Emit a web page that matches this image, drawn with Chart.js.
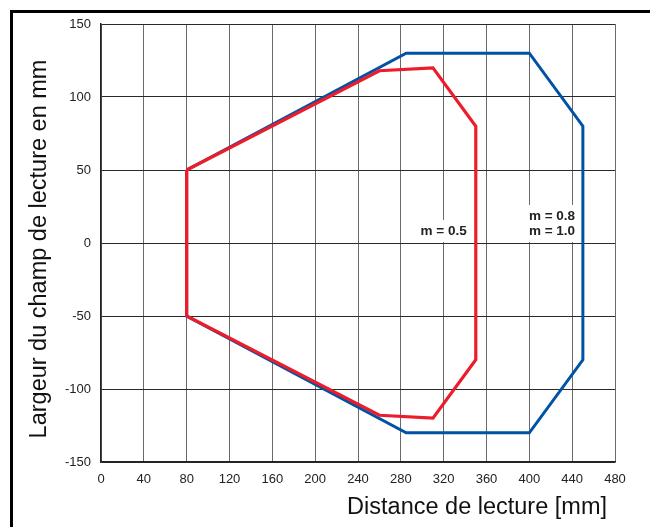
<!DOCTYPE html>
<html lang="fr">
<head>
<meta charset="UTF-8">
<title>Champ de lecture</title>
<script src="https://cdn.jsdelivr.net/npm/chart.js@4/dist/chart.umd.min.js"></script>
<style>
  html, body { margin: 0; padding: 0; background: #fff; }
  #wrap { width: 650px; height: 527px; }
</style>
</head>
<body>
<div id="wrap"><canvas id="chart"></canvas></div>
<script>
// reading field outline, m = 0.5 (red)
const distRed = [80, 260, 310, 350, 350, 310, 260, 80, 80];
const widthRed = [50, 118, 120, 80, -80, -120, -118, -50, 50];
// reading field outline, m = 0.8 and m = 1.0 (blue)
const distBlue = [80, 285, 400, 450, 450, 400, 285, 80, 80];
const widthBlue = [50, 130, 130, 80, -80, -130, -130, -50, 50];

const xTicks = [0, 40, 80, 120, 160, 200, 240, 280, 320, 360, 400, 440, 480];
const yTicks = [-150, -100, -50, 0, 50, 100, 150];

const labelRed = ['m = 0.5'];
const labelBlue = ['m = 0.8', 'm = 1.0'];
const xTitle = 'Distance de lecture [mm]';
const yTitle = 'Largeur du champ de lecture en mm';

const FONT = '"Liberation Sans", Arial, Helvetica, sans-serif';
Chart.defaults.font.family = FONT;

function points(xs, ys) {
    return xs.map((x, i) => ({ x: x, y: ys[i] }));
}

// frame, axis titles and the boxed m-labels
const extras = {
    id: 'extras',
    beforeDatasetsDraw(chart) {
        const ctx = chart.ctx;
        const sx = chart.scales.x, sy = chart.scales.y;
        const groups = [
            { lines: labelRed, x: 341.5, y: [8.2] },
            { lines: labelBlue, x: 442.7, y: [18.5, 8.2] }
        ];
        ctx.save();
        ctx.font = 'bold 13.5px ' + FONT;
        groups.forEach(g => {
            const right = sx.getPixelForValue(g.x);
            const ys = g.y.map(v => sy.getPixelForValue(v));
            const w = Math.max(...g.lines.map(t => ctx.measureText(t).width));
            const top = ys[0] - 11, bottom = ys[ys.length - 1] + 11;
            ctx.fillStyle = '#fff';
            ctx.fillRect(right - w - 5, top, w + 10, bottom - top);
            ctx.fillStyle = '#222';
            ctx.textAlign = 'right';
            ctx.textBaseline = 'middle';
            g.lines.forEach((t, i) => ctx.fillText(t, right, ys[i]));
        });
        ctx.restore();
    },
    afterDraw(chart) {
        const ctx = chart.ctx;
        ctx.save();
        ctx.strokeStyle = '#000';
        ctx.lineWidth = 3;
        ctx.strokeRect(11.5, 11.5, 800, 800);

        ctx.fillStyle = '#111';
        ctx.font = '23.5px ' + FONT;
        ctx.textAlign = 'right';
        ctx.textBaseline = 'alphabetic';
        ctx.fillText(xTitle, 607, 514);

        ctx.translate(46, 249);
        ctx.rotate(-Math.PI / 2);
        ctx.textAlign = 'center';
        ctx.fillText(yTitle, 0, 0);
        ctx.restore();
    }
};

const ctx = document.getElementById('chart').getContext('2d');
const chart = new Chart(ctx, {
    type: 'scatter',
    data: {
        datasets: [
            {
                label: labelRed.join(' / '),
                data: points(distRed, widthRed),
                showLine: true,
                borderColor: '#ec1c2b',
                backgroundColor: '#ec1c2b',
                borderWidth: 3.2,
                borderJoinStyle: 'miter',
                pointRadius: 0,
                tension: 0
            },
            {
                label: labelBlue.join(' / '),
                data: points(distBlue, widthBlue),
                showLine: true,
                borderColor: '#0052a5',
                backgroundColor: '#0052a5',
                borderWidth: 3,
                borderJoinStyle: 'miter',
                pointRadius: 0,
                tension: 0
            }
        ]
    },
    options: {
        responsive: true,
        maintainAspectRatio: false,
        animation: false,
        layout: { padding: { top: 24, right: 35, bottom: 0, left: 0 } },
        plugins: {
            legend: { display: false },
            tooltip: { enabled: false }
        },
        scales: {
            x: {
                type: 'linear',
                min: 0,
                max: 480,
                afterBuildTicks: s => { s.ticks = xTicks.map(v => ({ value: v })); },
                afterFit: s => { s.height = 65; },
                grid: { color: '#6a6a6a', lineWidth: 1, drawTicks: false },
                border: { color: '#222', width: 1.5 },
                ticks: { padding: 10, color: '#222', maxRotation: 0, autoSkip: false, font: { size: 13 } }
            },
            y: {
                type: 'linear',
                min: -150,
                max: 150,
                afterBuildTicks: s => { s.ticks = yTicks.map(v => ({ value: v })); },
                afterFit: s => { s.width = 101; },
                grid: { color: '#2a2a2a', lineWidth: 1, drawTicks: false },
                border: { color: '#222', width: 1.5 },
                ticks: { padding: 10, color: '#222', font: { size: 13 } }
            }
        }
    },
    plugins: [extras]
});
</script>
</body>
</html>
